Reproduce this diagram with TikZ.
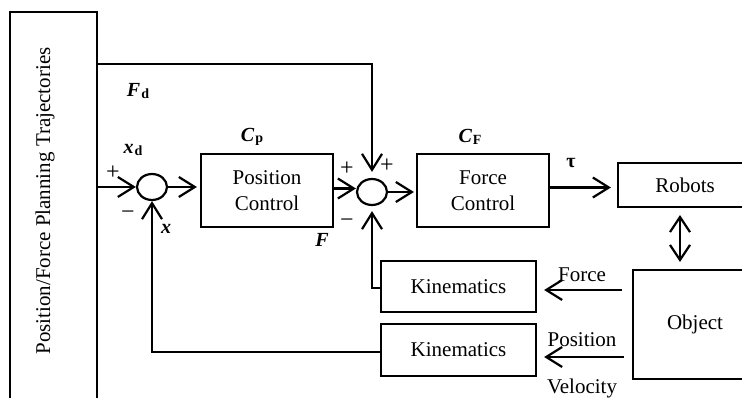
\documentclass[tikz,border=0pt]{standalone}
\usepackage{fontspec}
\setmainfont{Liberation Serif}
\usetikzlibrary{arrows.meta,shapes.geometric}
\begin{document}
\begin{tikzpicture}[x=1pt,y=-1pt,
  line width=2.2pt,
  box/.style={draw,line width=2.2pt,inner sep=0pt,align=center,font=\fontsize{21}{26}\selectfont},
  sumnode/.style={draw,ellipse,minimum width=30pt,minimum height=26pt,inner sep=0pt,line width=2.2pt},
  arr/.style={-{Straight Barb[length=16pt,width=20pt]}},
  dbl/.style={{Straight Barb[length=15pt,width=20pt]}-{Straight Barb[length=15pt,width=20pt]}},
  lab/.style={font=\fontsize{20}{22}\selectfont\bfseries\itshape,inner sep=0pt},
  sgn/.style={font=\fontsize{24}{26}\selectfont,inner sep=0pt},
  txt/.style={font=\fontsize{21}{24}\selectfont,inner sep=0pt}]
\useasboundingbox (0,0) rectangle (742,398);
\clip (0,0) rectangle (742,398);
% blocks
\node[box,minimum width=87pt,minimum height=420pt] (plan) at (53.5,222) {};
\node[txt,rotate=90] (plantext) at (45,201) {Position/Force Planning Trajectories};
\node[sumnode] (sum1) at (152,187) {};
\node[sumnode] (sum2) at (372,192) {};
\node[box,minimum width=132pt,minimum height=73pt] (pos) at (267,190.5) {Position\\Control};
\node[box,minimum width=132pt,minimum height=73pt] (force) at (483,190.5) {Force\\Control};
\node[box,minimum width=134pt,minimum height=44pt] (robots) at (685,185) {Robots};
\node[box,minimum width=124pt,minimum height=109pt] (object) at (695,324.5) {Object};
\node[box,minimum width=155pt,minimum height=51pt] (kin1) at (458.5,286.5) {Kinematics};
\node[box,minimum width=155pt,minimum height=52pt] (kin2) at (458.5,350) {Kinematics};
\coordinate (fy) at (0,64);
\coordinate (dx) at (680,0);
% connectors
\draw[arr,shorten >=6pt] (plan.east |- fy) -| (sum2.north);
\draw[arr] (plan.east |- sum1.west) -- (sum1.west);
\draw[arr,shorten >=3pt] (sum1.east) -- (pos.west |- sum1.east);
\draw[arr] ([yshift=2pt]pos.east) -- ([yshift=2pt]pos.east -| sum2.west);
\draw[arr,shorten >=2pt] (sum2.east) -- (force.west |- sum2.east);
\draw[arr,shorten >=6pt] ([yshift=3pt]force.east) -- ([yshift=3pt]force.east -| robots.west);
\draw[dbl,shorten >=7pt,shorten <=7pt] (robots.south -| dx) -- (object.north -| dx);
\draw[arr,shorten <=10pt,shorten >=7pt] ([yshift=-3.5pt]object.west |- kin1.east) -- ([yshift=-3.5pt]kin1.east);
\draw[arr,shorten <=8pt,shorten >=7pt] ([yshift=-7pt]object.west |- kin2.east) -- ([yshift=-7pt]kin2.east);
\draw[arr,shorten >=5pt] ([yshift=-1.5pt]kin1.west) -| (sum2.south);
\draw[arr] ([yshift=-2pt]kin2.west) -| (sum1.south);
% labels
\node[lab] (lFd) at (138,91) {F\kern1pt\raisebox{-1.5pt}{\fontsize{14}{14}\selectfont\upshape d}};
\node[lab] (lxd) at (133,150) {x\kern1pt\raisebox{-1.5pt}{\fontsize{14}{14}\selectfont\upshape d}};
\node[lab] (lCp) at (252,137) {C\kern1pt\raisebox{-1.5pt}{\fontsize{14}{14}\selectfont\upshape p}};
\node[lab] (lCF) at (470,137) {C\kern1pt\raisebox{-1.5pt}{\fontsize{14}{14}\selectfont\upshape F}};
\node[lab] (lx) at (166,229) {x};
\node[lab] (lF) at (322,240) {F};
\node[lab] (ltau) at (571,163) {\upshape τ};
\node[sgn] (p1) at (113,173) {+};
\node[sgn] (m1) at (128,215) {−};
\node[sgn] (p2) at (347,169) {+};
\node[sgn] (p3) at (387,166) {+};
\node[sgn] (m2) at (347,223) {−};
\node[txt] (lforce) at (582,275) {Force};
\node[txt] (lpos) at (582,340) {Position};
\node[txt] (lvel) at (582,388) {Velocity};
\end{tikzpicture}
\end{document}
